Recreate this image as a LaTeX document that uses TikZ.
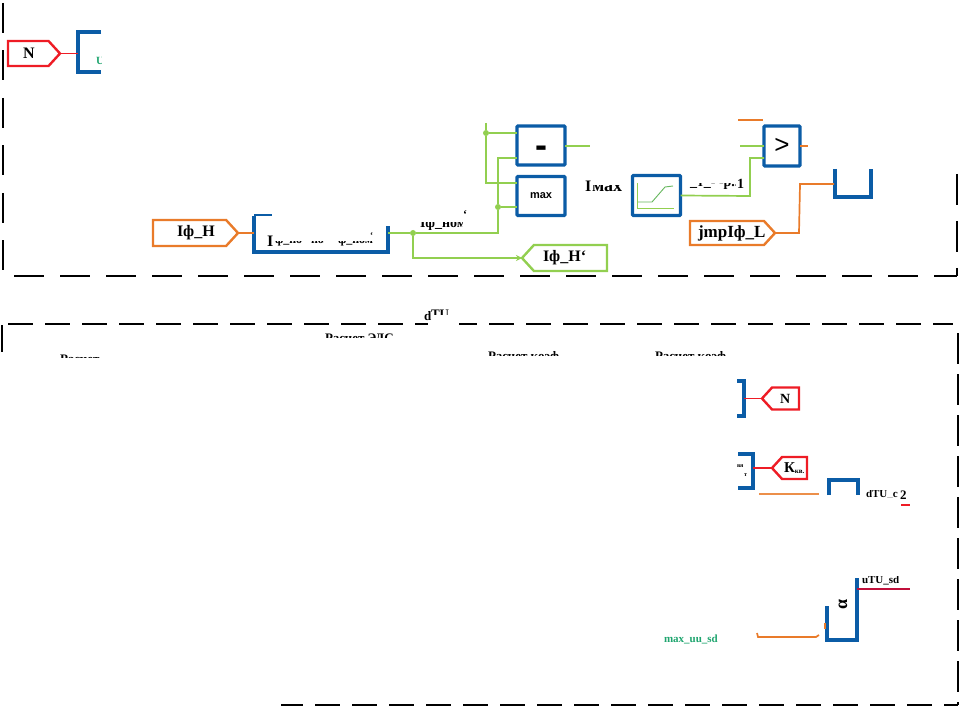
\documentclass[tikz,border=0pt]{standalone}
\usepackage{fontspec}
\setmainfont{Liberation Serif}
\setsansfont{Liberation Sans}
\usetikzlibrary{shapes.symbols,arrows.meta}
\definecolor{cblue}{HTML}{0B5CA6}
\definecolor{corange}{HTML}{E97B2A}
\definecolor{cgreen}{HTML}{92CF50}
\definecolor{cred}{HTML}{EE1C25}
\definecolor{cteal}{HTML}{1FA56F}
\definecolor{cmaroon}{HTML}{C00F3A}
\tikzset{
  x=1pt,y=-1pt,
  tag/.style={signal,draw=#1,line width=2.4pt,fill=white,inner sep=0pt,outer sep=0pt,signal pointer angle=95,font=\bfseries\fontsize{16}{16}\selectfont,text=black},
  tagr/.style={tag=#1,signal to=east,signal from=nowhere,anchor=east},
  tagl/.style={tag=#1,signal to=west,signal from=nowhere,anchor=west},
  blockbox/.style={draw=cblue,line width=3.4pt,fill=white,inner sep=0pt,outer sep=0pt,rounded corners=1pt,anchor=center},
  blockline/.style={draw=cblue,line width=3.4pt},
  wgreen/.style={draw=cgreen,line width=1.7pt},
  worange/.style={draw=corange,line width=1.7pt},
  wred/.style={draw=cred,line width=1.9pt},
  junction/.style={circle,fill=cgreen,inner sep=0pt,minimum size=6pt,outer sep=0pt},
  frameA/.style={draw=black,line width=1.9pt,dash pattern=on 30pt off 16pt},
  frameV/.style={draw=black,line width=1.9pt,dash pattern=on 30pt off 17.5pt},
  frameB/.style={draw=black,line width=1.9pt,dash pattern=on 25pt off 12pt},
  frameC/.style={draw=black,line width=1.9pt,dash pattern=on 31pt off 10pt},
  lab/.style={inner sep=0pt,outer sep=0pt,font=\bfseries\fontsize{#1}{#1}\selectfont,anchor=west},
  lab/.default=13
}
\begin{document}
\begin{tikzpicture}
\clip (0,0) rectangle (960,708);
% frames
\coordinate (fa0) at (3,-44.5); \coordinate (fa1) at (3,271);
\coordinate (fb0) at (14,276); \coordinate (fb1) at (957,276);
\coordinate (fr0) at (957,174); \coordinate (fr1) at (957,276);
\draw[frameV] (fa0) -- (fa1);
\draw[frameA] (fb0) -- (fb1);
\draw[frameA,dash pattern=on 31pt off 16pt] (fr0) -- (fr1);
\coordinate (ga0) at (8,324); \coordinate (ga1) at (953,324);
\coordinate (gl0) at (2,325); \coordinate (gl1) at (2,352);
\coordinate (gr0) at (958,333); \coordinate (gr1) at (958,705);
\coordinate (gb0) at (278,705); \coordinate (gb1) at (958,705);
\draw[frameB] (ga0) -- (ga1);
\draw[line width=1.9pt] (gl0) -- (gl1);
\draw[frameC] (gr0) -- (gr1);
\draw[frameB] (gb0) -- (gb1);
\fill[white] (270,700) rectangle (281,708);
\fill[white] (428,318) rectangle (459,330);

% top-left
\node[tagr=cred,minimum width=52pt,minimum height=25pt] (tN) at (60,53.5) {};
\node[lab=16] (tNt) at (23,53.5) {N};
\coordinate (b1) at (78,53.5);
\draw[blockline] (101,32) -- (78,32) -- (78,72) -- (101,72);
\draw[wred] (tN.east) -- (b1);
\begin{scope}\clip (94,55) rectangle (101,66);
\node[lab=11,text=cteal] (tU) at (96,61) {U};
\end{scope}

% input block
\node[tagr=corange,minimum width=85pt,minimum height=26pt] (tI) at (238,233) {};
\node[lab=16] (tIt) at (177,233) {Iф\_Н};
\coordinate (b2l) at (254,233); \coordinate (b2r) at (388,233);
\draw[blockline] (254,216) -- (254,252) -- (388,252) -- (388,226);
\draw[draw=cblue,line width=1.5pt] (254,215) -- (272,215);
\draw[worange] (tI.east) -- (b2l);
\node[lab=16] (t2i) at (267,241) {I};
\begin{scope}\clip (275,242) rectangle (301,249);
\node[lab=12] (t2a) at (275,241) {ф\_ном};
\end{scope}
\begin{scope}\clip (311,242) rectangle (323,249);
\node[lab=12] (t2b) at (311,241) {ном};
\end{scope}
\begin{scope}\clip (338,242) rectangle (373,249);
\node[lab=12] (t2c) at (338,241) {ф\_ном};
\end{scope}
\node[lab=9] (t2t) at (370,236) {`};
\begin{scope}\clip (420,223) rectangle (462,231);
\node[lab=14] (t3) at (420,224) {Iф\_ном};
\end{scope}
\node[lab=12] (t3t) at (463,215) {`};

% green net
\node[junction] (j1) at (413,233) {};
\node[junction] (j2) at (498,207) {};
\node[junction] (j3) at (486,133) {};
\node[blockbox,minimum width=48pt,minimum height=39pt] (bminus) at (541,145.5) {\sffamily\bfseries\fontsize{36}{36}\selectfont\raisebox{-12.5pt}[0pt][0pt]{-}};
\node[blockbox,minimum width=48pt,minimum height=39pt] (bmax) at (541,196) {\sffamily\bfseries\fontsize{11}{11}\selectfont max};
\node[tagl=cgreen,minimum width=85pt,minimum height=26pt] (tIb) at (522,258) {};
\node[lab=16] (tIbt) at (543,258) {Iф\_Н`};
\draw[wgreen] (b2r) -- (j1) -- (498,233) -- (j2) -- (498,158) -- (bminus.west |- 0,158);
\draw[wgreen] (j2) -- (bmax.west |- j2);
\draw[wgreen,-{Stealth[length=6pt,width=6pt]}] (j1) -- (413,258) -- (tIb.west);
\coordinate (n0) at (486,123);
\draw[wgreen] (n0) -- (j3) -- (486,183) -- (bmax.west |- 0,183);
\draw[wgreen] (j3) -- (bminus.west |- j3);
\coordinate (m1) at (590,146);
\draw[wgreen] (bminus.east |- m1) -- (m1);
\node[lab=16] (tImaxI) at (585,186) {I};
\begin{scope}\clip (592,186) rectangle (625,194);
\node[lab=18] (tImax) at (592,187) {мах};
\end{scope}

% table block
\node[blockbox,minimum width=48pt,minimum height=40pt] (btab) at (656.5,195.5) {};
\draw[cgreen,line width=0.8pt] (637,183) -- (637,208) -- (674,208);
\draw[cgreen!70!teal,line width=0.9pt] (638,202) -- (652,202) -- (665,187) -- (673,186);
\begin{scope}\clip (689,184) rectangle (735,192);
\node[lab=14] (t4) at (690,185) {\_т\_- -р..};
\end{scope}
\node[lab=14] (t4b) at (737,184) {1};

% comparator
\node[blockbox,minimum width=36pt,minimum height=40pt] (bgt) at (782,146) {\sffamily\fontsize{26}{26}\selectfont >};
\coordinate (c1) at (740,146); \coordinate (c2) at (808,146);
\coordinate (c3) at (738,120.5); \coordinate (c4) at (763,120.5);
\draw[wgreen] (c1) -- (bgt.west |- c1);
\draw[worange,line width=2pt] (c3) -- (c4);
\draw[worange] (bgt.east |- c2) -- (c2);
\draw[wgreen] (btab.east) -- (750,196) -- (750,158) -- (bgt.west |- 0,158);

% jmp
\node[tagr=corange,minimum width=85pt,minimum height=24pt] (tJ) at (775,233) {};
\node[lab=17] (tJt) at (698,233) {jmpIф\_L};
\coordinate (b3) at (834,184);
\draw[blockline] (835,169) -- (835,197) -- (871,197) -- (871,169);
\draw[worange] (tJ.east) -- (799,233) -- (800,184) -- (b3);

% lower titles
\node[lab=13] (tdd) at (424,316) {d};
\begin{scope}\clip (431,308) rectangle (452,314);
\node[lab=13] (tdTU) at (431,314) {TU};
\end{scope}
\begin{scope}\clip (320,328) rectangle (400,337);
\node[lab=13] (tE) at (325,340) {Расчет ЭДС};
\end{scope}
\begin{scope}\clip (55,348) rectangle (105,357);
\node[lab=13] (tR1) at (60,359) {Расчет};
\end{scope}
\begin{scope}\clip (485,346) rectangle (565,355);
\node[lab=13] (tR2) at (488,357) {Расчет коэф};
\end{scope}
\begin{scope}\clip (652,346) rectangle (732,355);
\node[lab=13] (tR3) at (655,357) {Расчет коэф};
\end{scope}

% N right
\coordinate (b4) at (744,398.5);
\draw[blockline] (737,381) -- (744,381) -- (744,416) -- (737,416);
\node[tagl=cred,minimum width=37pt,minimum height=22pt] (tN2) at (762,398.5) {};
\node[lab=14] (tN2t) at (780,398.5) {N};
\draw[wred] (b4) -- (tN2.west);

% Kkv
\coordinate (b5) at (753,468);
\draw[blockline] (738,454) -- (753,454) -- (753,488) -- (738,488);
\node[tagl=cred,minimum width=35pt,minimum height=22pt] (tK) at (772,468) {};
\node[lab=15] (tKt) at (784,468) {К\raisebox{-1pt}{\fontsize{7}{7}\selectfont кв.}};
\draw[wred] (b5) -- (tK.west);
\node[lab=6] (tv1) at (737,466) {вя};
\node[lab=6] (tv2) at (744,475) {т};

% dTU st2
\coordinate (o1) at (759,494); \coordinate (o2) at (819,494);
\draw[corange!85!white,line width=1.7pt] (o1) -- (o2);
\draw[blockline] (829,495) -- (829,480) -- (858,480) -- (858,495);
\begin{scope}\clip (864,490) rectangle (897,497);
\node[lab=11] (tst) at (866,494) {dTU\_ст};
\end{scope}
\node[lab=13] (tst2) at (900,495) {2};
\coordinate (r1) at (901,505); \coordinate (r2) at (910,505);
\draw[wred] (r1) -- (r2);

% bottom block
\coordinate (b6) at (857,589); \coordinate (r3) at (910,589);
\draw[blockline] (827,606) -- (827,640) -- (857,640) -- (857,578);
\draw[draw=cmaroon,line width=1.1pt] (b6) -- (r3);
\begin{scope}\clip (860,576) rectangle (905,584);
\node[lab=11] (tsd) at (862,580) {uTU\_sd};
\end{scope}
\node[lab=18,rotate=90,anchor=center] (talpha) at (843,604) {α};
\node[lab=11,text=cteal] (tmax) at (664,639) {max\_uu\_sd};
\coordinate (o3) at (757,633); \coordinate (o4) at (758,637); \coordinate (o5) at (816,637); \coordinate (o6) at (819,635);
\draw[corange,line width=1.7pt] (o3) -- (o4) -- (o5) -- (o6);
\coordinate (o7) at (825,623); \coordinate (o8) at (825,629);
\draw[corange,line width=2pt] (o7) -- (o8);
\end{tikzpicture}
\end{document}
